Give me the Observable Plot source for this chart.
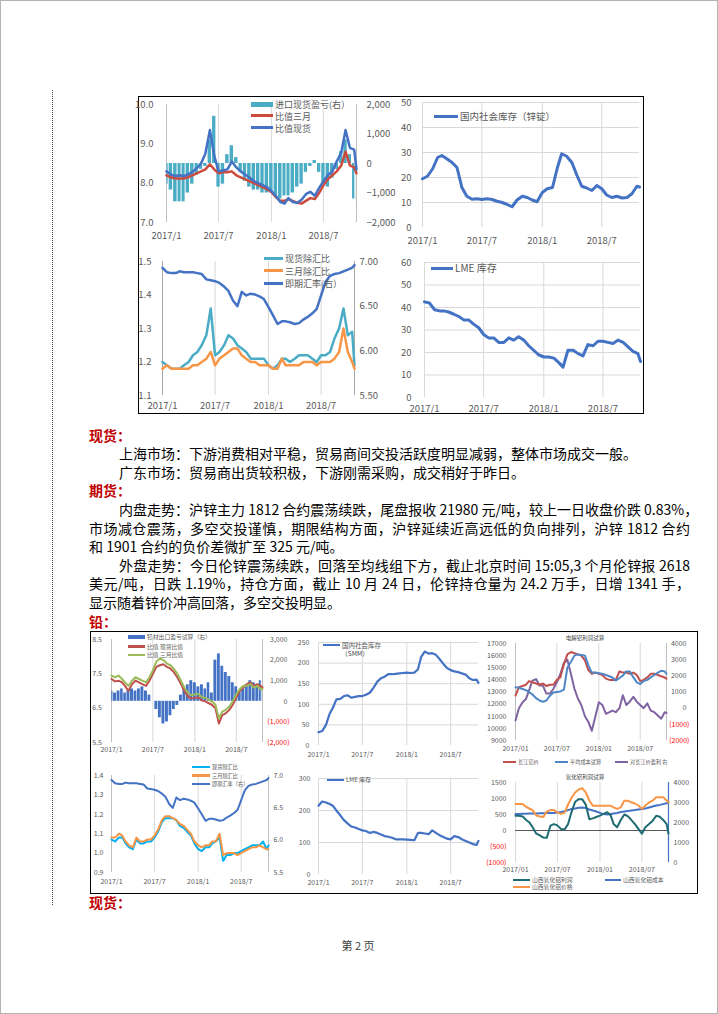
<!DOCTYPE html>
<html><head><meta charset="utf-8">
<script src="https://cdn.jsdelivr.net/npm/d3@7"></script>
<script src="https://cdn.jsdelivr.net/npm/@observablehq/plot@0.6"></script>
<style>
html,body{margin:0;padding:0;background:#fff;}
#page{position:relative;width:718px;height:1014px;overflow:hidden;font-family:"Noto Sans CJK SC","Noto Sans",sans-serif;background:#fff;}
#text{position:absolute;left:89px;top:425.7px;width:601px;font-size:14px;line-height:18.6px;color:#000;}
#text div{white-space:nowrap;}
.h{color:#C00000;font-weight:bold;}
.ind{padding-left:30px;}
.j{text-align:justify;text-align-last:justify;}
</style></head>
<body><div id="page">
<div style="position:absolute;left:0;top:0;width:716px;height:1012px;border:1px solid #B4B4B4;"></div>
<div style="position:absolute;left:52px;top:90px;height:815px;border-left:1.5px dotted #444;"></div>
<div style="position:absolute;left:138px;top:96px;width:504px;height:316px;border:1px solid #000;"></div>
<div style="position:absolute;left:90px;top:631px;width:606px;height:261px;border:1px solid #000;"></div>
<div id="text">
<div class="h">现货：</div>
<div class="ind">上海市场：下游消费相对平稳，贸易商间交投活跃度明显减弱，整体市场成交一般。</div>
<div class="ind">广东市场：贸易商出货较积极，下游刚需采购，成交稍好于昨日。</div>
<div class="h">期货：</div>
<div class="ind j">内盘走势：沪锌主力 1812 合约震荡续跌，尾盘报收 21980 元/吨，较上一日收盘价跌 0.83%，</div>
<div class="j">市场减仓震荡，多空交投谨慎，期限结构方面，沪锌延续近高远低的负向排列，沪锌 1812 合约</div>
<div>和 1901 合约的负价差微扩至 325 元/吨。</div>
<div class="ind j">外盘走势：今日伦锌震荡续跌，回落至均线组下方，截止北京时间 15:05,3 个月伦锌报 2618</div>
<div class="j">美元/吨，日跌 1.19%，持仓方面，截止 10 月 24 日，伦锌持仓量为 24.2 万手，日增 1341 手，</div>
<div>显示随着锌价冲高回落，多空交投明显。</div>
<div class="h">铅：</div>
</div>
<div class="h" style="position:absolute;left:89px;top:892.7px;font-size:14px;line-height:18.6px;">现货：</div>
<div style="position:absolute;left:358px;top:945px;transform:translate(-50%,-50%);font-size:11px;color:#404040;white-space:nowrap;">第 2 页</div>
</div>
<script>
// ---------- data ----------
const dates = ["2017-01-01","2017-01-16","2017-02-01","2017-02-16","2017-03-01","2017-03-16","2017-04-01","2017-04-16","2017-05-01","2017-05-16","2017-06-01","2017-06-16","2017-07-01","2017-07-16","2017-08-01","2017-08-16","2017-09-01","2017-09-16","2017-10-01","2017-10-16","2017-11-01","2017-11-16","2017-12-01","2017-12-16","2018-01-01","2018-01-16","2018-02-01","2018-02-16","2018-03-01","2018-03-16","2018-04-01","2018-04-16","2018-05-01","2018-05-16","2018-06-01","2018-06-16","2018-07-01","2018-07-16","2018-08-01","2018-08-16","2018-09-01","2018-09-16","2018-10-01","2018-10-16","2018-10-24"];
const xTickDates = ["2017-01-01","2017-07-01","2018-01-01","2018-07-01"];
const xLabelsA = ["2017/1","2017/7","2018/1","2018/7"];
const xLabelsB = ["2017/01","2017/07","2018/01","2018/07"];

// zinc
const zincImportPnL = [-700,-900,-1300,-1300,-1300,-1000,-700,-400,-200,-100,800,1600,-800,-700,300,600,200,-300,-600,-800,-900,-900,-1000,-1000,-1000,-1100,-1200,-1100,-1100,-1000,-800,-700,-300,-100,100,-300,-700,-800,-500,-200,400,800,300,-1200,-1300];
const zincRatioSpot = [8.30,8.22,8.18,8.20,8.18,8.22,8.28,8.38,8.50,8.75,9.35,8.70,8.30,8.32,8.35,8.55,8.40,8.30,8.22,8.15,8.05,8.00,7.95,7.90,7.80,7.68,7.52,7.48,7.62,7.52,7.50,7.58,7.72,7.78,7.68,7.88,8.05,8.20,8.30,8.55,8.78,9.35,8.90,8.85,8.35];
const zincRatio3M = [8.20,8.15,8.12,8.12,8.12,8.15,8.20,8.25,8.30,8.35,8.48,8.35,8.25,8.28,8.28,8.30,8.20,8.15,8.10,8.05,8.00,7.95,7.90,7.85,7.78,7.65,7.55,7.55,7.60,7.55,7.50,7.48,7.55,7.62,7.60,7.75,7.95,8.10,8.20,8.30,8.45,8.80,8.45,8.40,8.25];
const zincSocial = [19.5,20.5,23.5,28,28.8,27.5,26,24,16,12.5,11.3,11.5,11.2,11.5,11.2,10.5,10,9.2,8.3,11,12.5,12,11,10.3,14,15.5,16,24,29.5,28.5,26,21,16.5,15.8,14.8,16.8,15.5,13,12,12.5,11.8,12,13.5,16.5,16.2];
const cnyFx = [6.93,6.88,6.87,6.87,6.89,6.88,6.88,6.88,6.87,6.86,6.80,6.79,6.78,6.76,6.72,6.67,6.56,6.50,6.66,6.62,6.64,6.63,6.61,6.58,6.49,6.40,6.30,6.33,6.33,6.32,6.30,6.31,6.35,6.38,6.42,6.47,6.62,6.77,6.84,6.86,6.87,6.89,6.91,6.93,6.96];
const zincSpotExFx = [1.20,1.19,1.18,1.18,1.18,1.19,1.20,1.22,1.23,1.25,1.28,1.36,1.22,1.23,1.25,1.28,1.27,1.25,1.24,1.23,1.21,1.21,1.21,1.21,1.19,1.18,1.19,1.21,1.21,1.20,1.21,1.22,1.22,1.22,1.21,1.20,1.22,1.22,1.23,1.27,1.30,1.36,1.28,1.29,1.19];
const zinc3MExFx = [1.18,1.19,1.18,1.18,1.18,1.18,1.18,1.19,1.19,1.20,1.21,1.23,1.19,1.21,1.22,1.23,1.24,1.24,1.22,1.21,1.20,1.20,1.19,1.19,1.19,1.18,1.18,1.21,1.19,1.19,1.19,1.19,1.20,1.20,1.20,1.19,1.20,1.20,1.20,1.21,1.23,1.30,1.23,1.20,1.18];
const zincLme = [42.5,42,39,38.5,38.5,38,37,36,34.5,34.5,32.5,31,28,26.5,26.5,24.5,24.5,26.5,25.5,27,25.5,23,21,19,18,18,17.5,15.5,13.5,21,21,19.5,18.5,23.5,23,25,25,24.5,24,25.5,24.5,22.5,20.5,19.5,16];

// lead
const leadExportPnL = [500,400,500,600,400,500,600,500,600,700,500,300,0,-400,-800,-1100,-1000,-700,-400,-200,300,600,800,1000,900,700,800,600,900,400,2000,2300,1700,1400,1200,900,700,500,600,800,1000,900,800,1000,600];
const leadRatioSpot = [7.35,7.28,7.30,7.25,7.15,7.00,7.20,7.30,7.25,7.20,7.15,7.30,7.50,7.70,7.75,7.78,7.70,7.65,7.55,7.40,7.20,7.00,6.85,6.78,6.80,6.82,6.72,6.70,6.65,6.60,6.50,6.05,6.30,6.35,6.45,6.60,6.80,7.00,7.10,7.20,7.25,7.15,7.20,7.15,7.10];
const leadRatio3M = [7.45,7.40,7.45,7.35,7.25,7.15,7.30,7.40,7.35,7.30,7.25,7.40,7.60,7.85,7.95,7.90,7.80,7.75,7.65,7.50,7.30,7.10,6.95,6.88,6.90,6.92,6.82,6.80,6.75,6.70,6.60,6.20,6.40,6.45,6.55,6.70,6.90,7.05,7.15,7.15,7.20,7.10,7.15,7.05,7.05];
const leadSocial = [32,35,50,77,91,112,113,120,122,116,118,120,120,123,128,140,155,163,167,173,173,174,175,176,177,176,177,185,215,228,223,224,220,210,198,188,183,180,178,175,172,163,159,160,152];
const alPrice = [12700,13400,13500,13600,13900,13800,13700,13600,13700,13500,13600,13600,14000,14200,15300,16100,16300,16200,16100,16000,15600,14800,14500,14600,14500,14400,14100,14000,14000,14000,14700,14600,14600,14500,14600,14400,13900,14000,14200,14500,14500,14400,14300,14200,14100];
const alCost = [13400,13350,13250,13150,13000,12800,12500,12300,12200,12300,12700,12950,13000,13050,13200,15000,15500,16000,16100,16050,16000,15200,14600,14600,14550,14500,14400,14300,14200,13950,14150,14350,14700,14700,14200,13800,13650,13900,14000,14200,14400,14600,14750,14700,14500];
const alProfit = [-760,0,370,570,1090,1700,1800,1400,1400,900,900,1200,1600,2100,2800,3000,2100,1200,600,200,-500,-850,-1400,-550,370,200,-350,-250,-150,-250,0,800,200,400,700,400,200,0,300,-150,-250,-450,-650,-250,-300];
const leadSpotExFx = [1.07,1.06,1.08,1.08,1.05,1.03,1.02,1.07,1.05,1.05,1.06,1.06,1.08,1.11,1.16,1.18,1.18,1.18,1.17,1.14,1.13,1.11,1.09,1.05,1.02,1.01,1.03,1.03,1.05,1.06,1.08,0.96,0.99,0.99,1.00,1.00,1.01,1.02,1.03,1.04,1.04,1.04,1.06,1.02,1.04];
const lead3MExFx = [1.08,1.08,1.10,1.09,1.06,1.04,1.03,1.08,1.06,1.06,1.07,1.07,1.09,1.12,1.17,1.19,1.19,1.18,1.17,1.15,1.14,1.12,1.10,1.06,1.04,1.03,1.04,1.04,1.06,1.06,1.10,0.99,1.00,1.00,1.00,0.99,1.00,1.01,1.02,1.03,1.03,1.04,1.03,1.02,1.02];
const leadLme = [215,228,225,220,215,200,185,170,160,150,147,142,138,136,130,133,130,125,120,118,115,110,110,110,109,108,107,130,130,128,126,138,130,123,117,112,110,120,117,110,105,100,95,92,105];
const aluminaProfit = [460,460,440,330,260,100,-100,-150,-220,-230,150,200,160,50,30,200,600,900,980,980,800,350,380,420,465,520,570,480,200,100,330,500,450,330,200,50,-100,100,200,300,460,430,330,200,-100];
const aluminaPrice = [2930,2930,2930,2780,2700,2620,2350,2300,2270,2550,2620,2620,2510,2430,2480,2900,3250,3500,3650,3720,3500,3100,2840,2840,2840,2840,2840,2840,2760,2680,2760,3090,3090,3010,2950,2850,2680,2850,3000,3090,3260,3260,3260,3100,3000];
const aluminaCost = [2430,2430,2440,2440,2450,2450,2450,2460,2460,2470,2470,2480,2500,2520,2560,2620,2680,2700,2740,2750,2720,2650,2600,2550,2480,2420,2400,2420,2450,2480,2520,2550,2580,2600,2620,2650,2680,2700,2750,2800,2850,2880,2920,2960,3000];

// ---------- helpers ----------
const FONT = '"Noto Sans CJK SC","Noto Sans",sans-serif';
const page = document.getElementById("page");
const parse = s => new Date(s + "T00:00:00Z");
const X = dates.map(parse);
const XT = xTickDates.map(parse);
const xDomain = [X[0], X[X.length - 1]];
const GRID = "#D9D9D9", LBL = "#595959", NEG = "#FF0000";

const series = vals => vals.map((v, i) => ({date: X[i], v}));
const bars = vals => vals.map((v, i) => ({
  x1: i === 0 ? X[0] : new Date((+X[i - 1] + +X[i]) / 2),
  x2: i === X.length - 1 ? X[i] : new Date((+X[i] + +X[i + 1]) / 2),
  v
}));
const range = (a, b, s) => d3.range(a, b + s / 2, s);
const comma = d3.format(",");
const paren = f => d => d < 0 ? "(" + f(-d) + ")" : f(d);

function plotAt(f, yDomain, fs, marks) {
  const svg = Plot.plot({
    width: f.W, height: f.H,
    marginLeft: f.mL, marginRight: f.mR, marginTop: f.mT, marginBottom: f.mB,
    x: {type: "utc", domain: xDomain, axis: null, label: null},
    y: {domain: yDomain, axis: null, label: null},
    style: {background: "transparent", fontFamily: FONT, fontSize: fs + "px", color: LBL, overflow: "visible"},
    marks
  });
  svg.style.position = "absolute";
  svg.style.left = f.L + "px";
  svg.style.top = f.T + "px";
  page.appendChild(svg);
}
const gx = () => Plot.gridX(XT, {stroke: GRID, strokeOpacity: 1});
const gy = t => Plot.gridY(t, {stroke: GRID, strokeOpacity: 1});
const edges = (c = "#BFBFBF") => Plot.ruleX(xDomain, {stroke: c});
function ax(labels, pad) {
  const m = new Map(XT.map((d, i) => [+d, labels[i]]));
  return Plot.axisX(XT, {tickSize: 0, tickPadding: pad, tickFormat: d => m.get(+d), color: LBL, label: null});
}
const ayL = (t, fmt, pad, color = LBL) => Plot.axisY(t, {anchor: "left", tickSize: 0, tickPadding: pad, tickFormat: fmt, color, label: null});
const ayR = (t, fmt, pad, color = LBL, textAnchor = "start") => Plot.axisY(t, {anchor: "right", tickSize: 0, tickPadding: pad, tickFormat: fmt, color, textAnchor, label: null});
const line = (vals, stroke, w) => Plot.lineY(series(vals), {x: "date", y: "v", stroke, strokeWidth: w, strokeLinejoin: "round"});

function lg(x, y, w, color, text, fs, thick) {
  const sw = document.createElement("div");
  sw.style.cssText = `position:absolute;left:${x}px;top:${y - thick / 2}px;width:${w}px;height:${thick}px;background:${color};`;
  page.appendChild(sw);
  const t = document.createElement("div");
  t.textContent = text;
  t.style.cssText = `position:absolute;left:${x + w + 2}px;top:${y}px;transform:translateY(-50%);font-size:${fs}px;line-height:1;color:${LBL};white-space:nowrap;`;
  page.appendChild(t);
}
function title(cx, cy, text, fs) {
  const t = document.createElement("div");
  t.textContent = text;
  t.style.cssText = `position:absolute;left:${cx}px;top:${cy}px;transform:translate(-50%,-50%);font-size:${fs}px;line-height:1;color:#404040;white-space:nowrap;`;
  page.appendChild(t);
}

// ---------- Zinc box ----------
const f1 = {L: 138, T: 96, W: 258, H: 154, mL: 28, mR: 40, mT: 8, mB: 28};
plotAt(f1, [-2000, 2000], 9.5, [
  gx(), edges(),
  Plot.rect(bars(zincImportPnL), {x1: "x1", x2: "x2", y1: 0, y2: "v", fill: "#4BACC6", insetLeft: 0.5, insetRight: 0.5}),
  ayR(range(-2000, 2000, 1000), comma, 10)
]);
plotAt(f1, [7, 10], 9.5, [
  line(zincRatio3M, "#CC4B3C", 2.5),
  line(zincRatioSpot, "#4472C4", 2.5),
  ayL([7, 8, 9, 10], d3.format(".1f"), 13),
  ax(xLabelsA, 10)
]);
lg(251, 104, 22, "#4BACC6", "进口现货盈亏(右）", 9, 5);
lg(251, 115.7, 22, "#CC4B3C", "比值三月", 9, 3);
lg(251, 127.7, 22, "#4472C4", "比值现货", 9, 3);

const f2 = {L: 396, T: 96, W: 246, H: 154, mL: 26, mR: 3, mT: 6, mB: 23};
plotAt(f2, [0, 50], 9.5, [
  gy(range(10, 50, 10)), gx(),
  line(zincSocial, "#4472C4", 3),
  ayL(range(0, 50, 10), d3.format("d"), 11),
  ax(xLabelsA, 10)
]);
lg(434, 116.7, 24, "#4472C4", "国内社会库存（锌锭）", 9.5, 3);

const f3 = {L: 138, T: 250, W: 258, H: 163, mL: 24, mR: 42, mT: 11, mB: 18};
plotAt(f3, [5.5, 7.0], 9.5, [
  gx(), edges("#A6A6A6"),
  line(cnyFx, "#4472C4", 2.5),
  ayR(range(5.5, 7.0, 0.5), d3.format(".2f"), 5)
]);
plotAt(f3, [1.1, 1.5], 9.5, [
  line(zincSpotExFx, "#4BACC6", 2.5),
  line(zinc3MExFx, "#F79646", 2.5),
  ayL(range(1.1, 1.5, 0.1), d3.format(".1f"), 11),
  ax(xLabelsA, 7)
]);
lg(264, 258, 19, "#4BACC6", "现货除汇比", 9, 3);
lg(264, 270.8, 19, "#F79646", "三月除汇比", 9, 3);
lg(264, 283, 19, "#4472C4", "即期汇率(右）", 9, 3);

const f4 = {L: 396, T: 250, W: 246, H: 163, mL: 28, mR: 2, mT: 12, mB: 16};
plotAt(f4, [0, 60], 9.5, [
  gy(range(10, 60, 10)), gx(),
  line(zincLme, "#4472C4", 3),
  ayL(range(0, 60, 10), d3.format("d"), 13),
  ax(xLabelsA, 8)
]);
lg(431, 268, 22, "#4472C4", "LME 库存", 10, 3);

// ---------- Lead box ----------
const f5 = {L: 91, T: 632, W: 204, H: 123, mL: 20, mR: 33, mT: 7, mB: 13};
plotAt(f5, [-2000, 3000], 7, [
  gx(), edges(),
  Plot.rect(bars(leadExportPnL), {x1: "x1", x2: "x2", y1: 0, y2: "v", fill: "#4472C4", insetLeft: 0.3, insetRight: 0.3}),
  ayR(range(0, 3000, 1000), comma, 25, LBL, "end"),
  ayR([-2000, -1000], paren(comma), 27, NEG, "end")
]);
plotAt(f5, [5.5, 8.5], 7, [
  line(leadRatioSpot, "#C0504D", 2),
  line(leadRatio3M, "#9BBB59", 2),
  ayL([5.5, 6.5, 7.5, 8.5], d3.format(".1f"), 9.5),
  ax(xLabelsA, 5)
]);
lg(128, 637, 17, "#4472C4", "铅材出口盈亏试算（右）", 5.8, 4);
lg(128, 646.7, 17, "#C0504D", "比值 现货比值", 5.8, 2.5);
lg(128, 655, 17, "#9BBB59", "比值 三月比值", 5.8, 2.5);

const f6 = {L: 295, T: 632, W: 193, H: 130, mL: 23, mR: 10, mT: 10, mB: 17};
plotAt(f6, [0, 250], 7, [
  gy(range(50, 250, 50)), gx(),
  line(leadSocial, "#4472C4", 2.2),
  ayL(range(0, 250, 50), d3.format("d"), 9),
  ax(xLabelsA, 6.5)
]);
lg(323, 645, 17, "#4472C4", "国内社会库存", 6.5, 2.5);
title(355, 653, "（SMM）", 6.5);

const f7 = {L: 488, T: 632, W: 209, H: 125, mL: 27, mR: 31, mT: 11, mB: 17};
plotAt(f7, [-2000, 4000], 7, [
  gx(), edges(),
  line(alProfit, "#8064A2", 2),
  ayR(range(0, 4000, 1000), d3.format("d"), 20, LBL, "end"),
  ayR([-2000, -1000], paren(d3.format("d")), 23, NEG, "end")
]);
plotAt(f7, [9000, 17000], 7, [
  line(alPrice, "#C0504D", 2),
  line(alCost, "#4F86C6", 2),
  ayL(range(9000, 17000, 1000), d3.format("d"), 9),
  ax(xLabelsB, 5.5)
]);
title(585, 639, "电解铝利润试算", 5.5);
lg(503, 762, 13, "#C0504D", "长江铝价", 5.2, 2);
lg(555, 762, 13, "#4F86C6", "平均成本试算", 5.2, 2);
lg(615, 762, 13, "#8064A2", "对长江价盈利 右", 5.2, 2);

const f8 = {L: 91, T: 757, W: 204, H: 134, mL: 20, mR: 27, mT: 18, mB: 19};
plotAt(f8, [5.5, 7.0], 7, [
  gx(), edges(),
  line(cnyFx, "#4472C4", 2),
  ayR(range(5.5, 7.0, 0.5), d3.format(".1f"), 5)
]);
plotAt(f8, [0.9, 1.4], 7, [
  line(leadSpotExFx, "#00B0F0", 2),
  line(lead3MExFx, "#F79646", 2),
  ayL(range(0.9, 1.4, 0.1), d3.format(".1f"), 8),
  ax(xLabelsA, 6.5)
]);
lg(192, 767, 18, "#00B0F0", "现货除汇比", 5.2, 2.5);
lg(192, 775.5, 18, "#F79646", "三月除汇比", 5.2, 2.5);
lg(192, 784, 18, "#4472C4", "即期汇率（右）", 5.2, 2.5);

const f9 = {L: 295, T: 757, W: 193, H: 134, mL: 23, mR: 10, mT: 21, mB: 17};
plotAt(f9, [0, 300], 7, [
  gy(range(100, 300, 100)), gx(),
  line(leadLme, "#4472C4", 2.2),
  ayL(range(0, 300, 100), d3.format("d"), 8),
  ax(xLabelsA, 5.2)
]);
lg(327, 780, 17, "#4472C4", "LME 库存", 6, 2.5);

const f10 = {L: 488, T: 770, W: 209, H: 110, mL: 27, mR: 29, mT: 12, mB: 18};
plotAt(f10, [0, 4000], 7, [
  gx(),
  Plot.ruleX([xDomain[1]], {stroke: "#4472C4", strokeWidth: 1.2}),
  line(aluminaCost, "#4472C4", 2),
  line(aluminaPrice, "#F79646", 2),
  ayR(range(0, 4000, 1000), d3.format("d"), 5)
]);
plotAt(f10, [-1000, 1500], 7, [
  Plot.ruleY([0], {stroke: "#595959", strokeWidth: 1.2}),
  line(aluminaProfit, "#1E6B74", 2),
  ayL(range(0, 1500, 500), d3.format("d"), 9),
  ayL([-1000, -500], paren(d3.format("d")), 9, NEG),
  ax(xLabelsB, 5)
]);
title(585, 778, "氧化铝利润试算", 5.5);
lg(513, 880, 17, "#1E6B74", "山西氧化铝利润", 5.8, 2.5);
lg(605, 880, 16, "#4472C4", "山西氧化铝成本", 5.8, 2.5);
lg(513, 887, 17, "#F79646", "山西氧化铝价格", 5.8, 2.5);
</script>
</body></html>
